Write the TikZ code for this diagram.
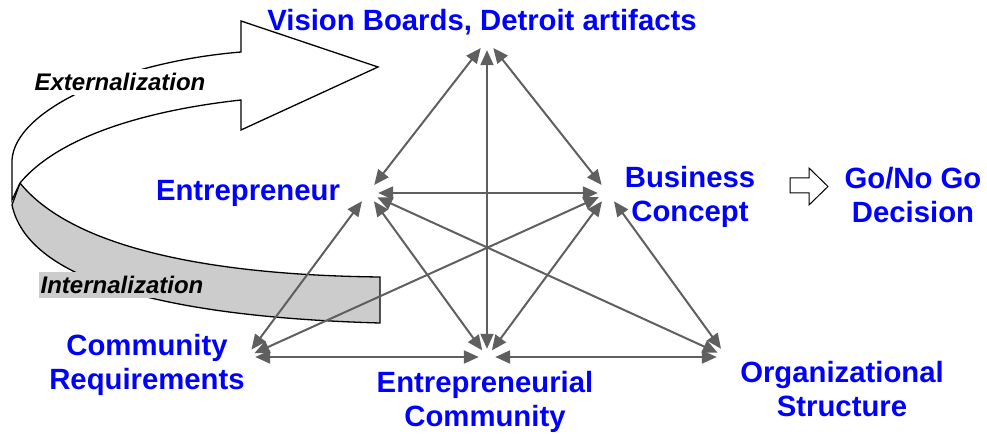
\documentclass[tikz,border=0pt]{standalone}
\usepackage{fontspec}
\setmainfont{Liberation Sans}
\usepackage{tikz}
\usetikzlibrary{arrows.meta}
\tikzstyle{canvas} = [x = 1pt, y = -1pt]
\definecolor{linkGray}{RGB}{95,95,95}
\definecolor{labelBlue}{RGB}{0,0,255}
\definecolor{ribbonGray}{RGB}{204,204,204}
\tikzstyle{hub} = [circle, inner sep = 0pt, minimum size = 20pt]
\tikzstyle{link} = [color = linkGray, line width = 2pt, {Triangle[length = 15pt, width = 13pt]}-{Triangle[length = 15pt, width = 13pt]}]
\tikzstyle{conceptText} = [color = labelBlue, font = \fontsize{29.3}{34}\selectfont\bfseries, align = center, inner sep = 0pt, anchor = north]
\tikzstyle{ribbonText} = [font = \fontsize{24}{28}\selectfont\bfseries\itshape, inner xsep = 1.5pt, inner ysep = 4pt]
\tikzstyle{ribbonStyle} = [draw = black, line width = 1.3pt, line join = miter]
\newcommand{\concept}[3]{\node [conceptText] (#1) at (#2) {#3};}

\begin{document}
\begin{tikzpicture}[canvas]
  \useasboundingbox (0,0) rectangle (987,435);
  % ribbon
  \filldraw [ribbonStyle, fill = ribbonGray] (20,183) .. controls (70,245) and (200,275) .. (380,277)
    -- (380,323) .. controls (200,318) and (30,290) .. (12,205) -- cycle;
  \filldraw [ribbonStyle, fill = white] (241,52) -- (241,21) -- (378,67) -- (241,130) -- (241,100)
    .. controls (150,110) and (60,135) .. (20,183) -- (12,200) -- (12,160)
    .. controls (15,110) and (120,62) .. (241,52) -- cycle;
  \node [ribbonText, fill = white] (externalization) at (120,82) {Externalization};
  \node [ribbonText, fill = ribbonGray] (internalization) at (122,285) {Internalization};
  % hubs
  \node [hub] (vision) at (487,40) {};
  \node [hub] (entrepreneur) at (368,193) {};
  \node [hub] (business) at (608,193) {};
  \node [hub, minimum size = 18pt] (community) at (246,357) {};
  \node [hub, minimum size = 16pt] (entCommunity) at (487,357) {};
  \node [hub] (organization) at (727,357) {};
  \foreach \from/\to in {vision/entrepreneur, vision/business, vision/entCommunity,
      entrepreneur/business, entrepreneur/community, entrepreneur/entCommunity, entrepreneur/organization,
      business/community, business/entCommunity, business/organization,
      community/entCommunity, entCommunity/organization}
    \draw [link] (\from) -- (\to);
  % labels
  \concept{visionText}{482,9}{Vision Boards, Detroit artifacts}
  \concept{entrepreneurText}{248,180}{Entrepreneur}
  \concept{businessText}{690,166}{Business\\Concept}
  \concept{decisionText}{913,167}{Go/No Go\\Decision}
  \concept{communityText}{147,334}{Community\\Requirements}
  \concept{entCommunityText}{485,371}{Entrepreneurial\\Community}
  \concept{organizationText}{842,361}{Organizational\\Structure}
  % go / no go
  \draw [ribbonStyle, line width = 1pt] (790,178) -- (809,178) -- (809,168) -- (828,186.5)
    -- (809,205) -- (809,193) -- (790,193) -- cycle;
\end{tikzpicture}
\end{document}
